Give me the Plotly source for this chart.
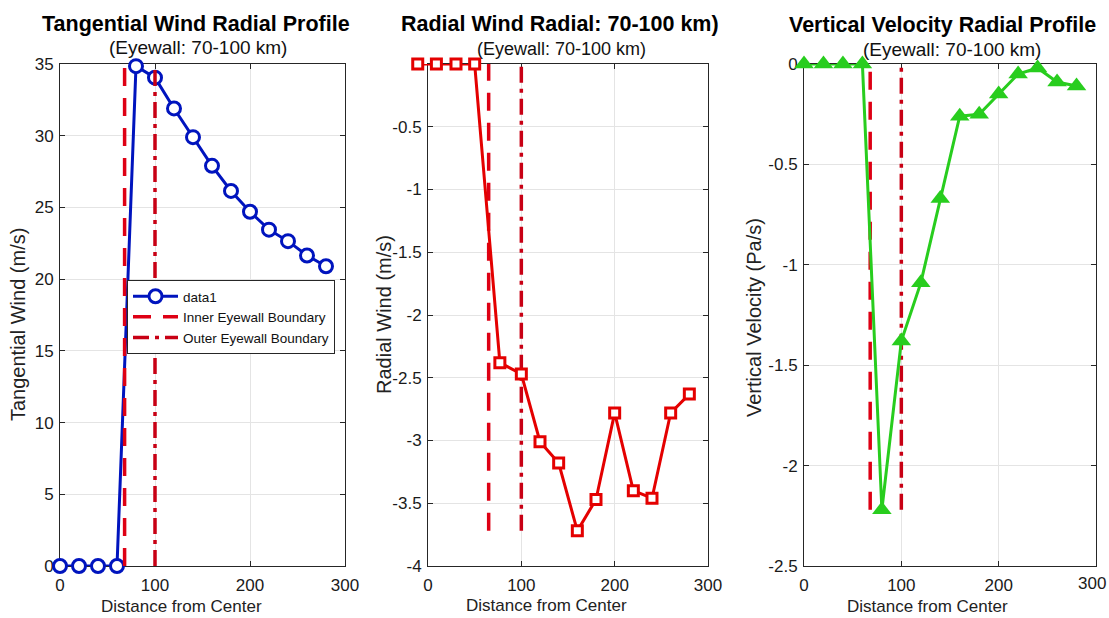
import plotly.graph_objects as go

# ---------------- data ----------------
distance = [0, 20, 40, 60, 80, 100, 120, 140, 160, 180, 200, 220, 240, 260, 280]
tangential_wind = [0, 0, 0, 0, 34.85, 34.05, 31.9, 29.9, 27.9, 26.15, 24.7, 23.45, 22.65, 21.65, 20.9]

radial_distance = [-11, 9, 30, 50, 77, 100, 120, 140, 160, 180, 200, 220, 240, 260, 280]
radial_wind = [0, 0, 0, 0, -2.38, -2.47, -3.01, -3.18, -3.72, -3.47, -2.78, -3.40, -3.46, -2.78, -2.63]

vertical_velocity = [0, 0, 0, 0, -2.22, -1.38, -1.09, -0.67, -0.26, -0.25, -0.15, -0.05, -0.02, -0.09, -0.11]

inner_boundary = [68, 65, 68]     # per panel, as drawn
outer_boundary = [100, 100, 100]

x_ticks = [0, 100, 200, 300]
x_ticktext = ["0", "100", "200", "300"]
y1_ticks = [0, 5, 10, 15, 20, 25, 30, 35]
y1_ticktext = ["0", "5", "10", "15", "20", "25", "30", "35"]
y2_ticks = [0, -0.5, -1, -1.5, -2, -2.5, -3, -3.5, -4]
y2_ticktext = ["0", "-0.5", "-1", "-1.5", "-2", "-2.5", "-3", "-3.5", "-4"]
y3_ticks = [0, -0.5, -1, -1.5, -2, -2.5]
y3_ticktext = ["0", "-0.5", "-1", "-1.5", "-2", "-2.5"]

titles = ["Tangential Wind Radial Profile", "Radial Wind Radial: 70-100 km)", "Vertical Velocity Radial Profile"]
subtitle = "(Eyewall: 70-100 km)"
y_titles = ["Tangential Wind (m/s)", "Radial Wind (m/s)", "Vertical Velocity (Pa/s)"]
x_title = "Distance from Center"

# ---------------- layout geometry (pixels) ----------------
W, H = 1109, 618
FONT = "Liberation Sans, Arial, sans-serif"
panels_px = [(60, 345), (428, 708), (804, 1096)]
y_top, y_bot = 64, 566
X_RANGE = [0, 300]
EXTRA_LEFT = 16  # data units of room left of panel 2's frame (first marker sits there)

def px_x(p):
    return p / W

def px_y(p):
    return 1 - p / H

BLUE = "rgb(0,20,190)"
RED = "rgb(228,0,0)"
GREEN = "rgb(40,205,30)"
DASH_RED = "rgb(222,0,20)"
DASHDOT_RED = "rgb(200,0,20)"
GRID = "rgb(228,228,228)"
FRAME = "rgb(38,38,38)"
TICK_COLOR = "#1a1a1a"

fig = go.Figure()

# Panel 1
fig.add_trace(go.Scatter(
    x=distance, y=tangential_wind, mode="lines+markers", name="data1",
    line=dict(color=BLUE, width=3),
    marker=dict(symbol="circle", size=13, color="white", line=dict(color=BLUE, width=3)),
    cliponaxis=False, xaxis="x", yaxis="y"))

series = [tangential_wind, radial_wind, vertical_velocity]
axes = [("x", "y"), ("x2", "y2"), ("x3", "y3")]
for i, (xa, ya) in enumerate(axes):
    lo, hi = min(series[i]), max(series[i])
    fig.add_trace(go.Scatter(
        x=[inner_boundary[i], inner_boundary[i]], y=[lo, hi], mode="lines",
        name="Inner Eyewall Boundary", showlegend=(i == 0),
        line=dict(color=DASH_RED, width=3.5, dash="18px,12px"),
        xaxis=xa, yaxis=ya))
    fig.add_trace(go.Scatter(
        x=[outer_boundary[i], outer_boundary[i]], y=[lo, hi], mode="lines",
        name="Outer Eyewall Boundary", showlegend=(i == 0),
        line=dict(color=DASHDOT_RED, width=3.5, dash="16px,6px,4px,6px"),
        xaxis=xa, yaxis=ya))

# Panel 2 series, drawn on a hidden axis pair sharing panel 2's scale but with room on the left
fig.add_trace(go.Scatter(
    x=radial_distance, y=radial_wind, mode="lines+markers", name="radial", showlegend=False,
    line=dict(color=RED, width=3),
    marker=dict(symbol="square", size=10, color="white", line=dict(color=RED, width=3)),
    cliponaxis=False, xaxis="x4", yaxis="y4"))

# Panel 3
fig.add_trace(go.Scatter(
    x=distance, y=vertical_velocity, mode="lines+markers", name="vertical", showlegend=False,
    line=dict(color=GREEN, width=3),
    marker=dict(symbol="triangle-up", size=17, color=GREEN, line=dict(color=GREEN, width=0)),
    cliponaxis=False, xaxis="x3", yaxis="y3"))

def xaxis_cfg(i, tv, tt):
    a, b = panels_px[i]
    return dict(domain=[px_x(a), px_x(b)], range=X_RANGE, tickvals=tv, ticktext=tt,
                showgrid=True, gridcolor=GRID, gridwidth=1, zeroline=False,
                showline=True, linecolor=FRAME, linewidth=1, mirror="ticks",
                ticks="inside", ticklen=5, tickcolor=FRAME,
                ticklabeloverflow="allow", ticklabelstandoff=4,
                tickfont=dict(size=17, color=TICK_COLOR, family=FONT),
                anchor=["y", "y2", "y3"][i], layer="below traces")

def yaxis_cfg(i, rng, tv, tt):
    return dict(domain=[px_y(y_bot), px_y(y_top)], range=rng, tickvals=tv, ticktext=tt,
                showgrid=True, gridcolor=GRID, gridwidth=1, zeroline=False,
                showline=True, linecolor=FRAME, linewidth=1, mirror="ticks",
                ticks="inside", ticklen=5, tickcolor=FRAME,
                ticklabeloverflow="allow", ticklabelstandoff=2,
                tickfont=dict(size=17, color=TICK_COLOR, family=FONT),
                anchor=["x", "x2", "x3"][i], layer="below traces")

a2, b2 = panels_px[1]
px_per_unit = (b2 - a2) / (X_RANGE[1] - X_RANGE[0])
hidden_x = dict(domain=[px_x(a2 - EXTRA_LEFT * px_per_unit), px_x(b2)],
                range=[X_RANGE[0] - EXTRA_LEFT, X_RANGE[1]], visible=False,
                showgrid=False, zeroline=False, anchor="y4")
hidden_y = dict(domain=[px_y(y_bot), px_y(y_top)], range=[-4, 0], visible=False,
                showgrid=False, zeroline=False, anchor="x4")

annotations = []
title_pos = [(196, 24), (560, 24), (942, 25)]
sub_pos = [(198, 48), (561, 49), (952, 49)]
sub_sizes = [19, 18, 19]
ytitle_pos = [(18, 325), (384, 315), (754, 318)]
xtitle_pos = [(181, 606), (546, 605), (927, 606)]
for i in range(3):
    annotations.append(dict(text="<b>%s</b>" % titles[i], x=px_x(title_pos[i][0]), y=px_y(title_pos[i][1]),
                            xref="paper", yref="paper", xanchor="center", yanchor="middle",
                            showarrow=False, font=dict(size=21.5, color="black", family=FONT)))
    annotations.append(dict(text=subtitle, x=px_x(sub_pos[i][0]), y=px_y(sub_pos[i][1]),
                            xref="paper", yref="paper", xanchor="center", yanchor="middle",
                            showarrow=False, font=dict(size=sub_sizes[i], color="#111111", family=FONT)))
    annotations.append(dict(text=y_titles[i], x=px_x(ytitle_pos[i][0]), y=px_y(ytitle_pos[i][1]),
                            xref="paper", yref="paper", xanchor="center", yanchor="middle", textangle=-90,
                            showarrow=False, font=dict(size=20, color="#222222", family=FONT)))
    annotations.append(dict(text=x_title, x=px_x(xtitle_pos[i][0]), y=px_y(xtitle_pos[i][1]),
                            xref="paper", yref="paper", xanchor="center", yanchor="middle",
                            borderpad=0,
                            showarrow=False, font=dict(size=17, color="#222222", family=FONT)))

# the last tick label of panel 3 sits on the page edge; plotly hides such labels, so place it on the axis
annotations.append(dict(text=x_ticktext[-1], x=x_ticks[-1], xref="x3", y=0, yref="y3 domain",
                        xanchor="center", yanchor="top", yshift=-7, xshift=-4, borderpad=0,
                        showarrow=False, font=dict(size=17, color=TICK_COLOR, family=FONT)))

fig.update_layout(
    autosize=True,
    margin=dict(l=0, r=0, t=0, b=0, autoexpand=False),
    paper_bgcolor="white", plot_bgcolor="rgba(0,0,0,0)",
    font=dict(family=FONT),
    xaxis=xaxis_cfg(0, x_ticks, x_ticktext),
    xaxis2=xaxis_cfg(1, x_ticks, x_ticktext),
    xaxis3=xaxis_cfg(2, x_ticks[:-1], x_ticktext[:-1]),
    xaxis4=hidden_x,
    yaxis=yaxis_cfg(0, [0, 35], y1_ticks, y1_ticktext),
    yaxis2=yaxis_cfg(1, [-4, 0], y2_ticks, y2_ticktext),
    yaxis3=yaxis_cfg(2, [-2.5, 0], y3_ticks, y3_ticktext),
    yaxis4=hidden_y,
    showlegend=True,
    legend=dict(x=px_x(127), y=px_y(280), xanchor="left", yanchor="top",
                bgcolor="white", bordercolor=FRAME, borderwidth=1,
                font=dict(size=13.5, color="#111111", family=FONT),
                itemwidth=45, tracegroupgap=0),
    annotations=annotations,
)

fig.write_html(
    "out.html",
    config={"displayModeBar": False},
    default_width="100vw",
    default_height="100vh",
    post_script="document.body.style.margin='0';document.body.style.overflow='hidden';"
                "document.documentElement.style.overflow='hidden';",
)
